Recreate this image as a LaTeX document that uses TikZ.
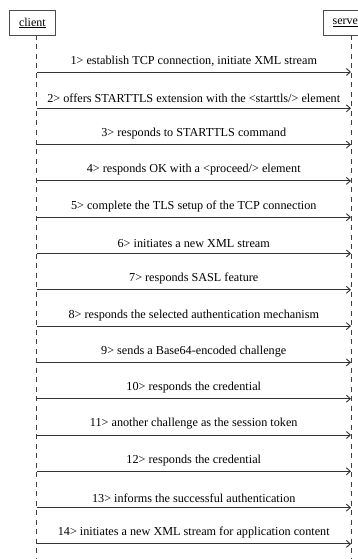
\documentclass[tikz,border=0pt]{standalone}
\usepackage{fontspec}
\setmainfont{Liberation Serif}
\usetikzlibrary{arrows.meta}
\begin{document}
\begin{tikzpicture}[x=1pt,y=-1pt,
  actor/.style={draw=black!70, line width=0.8pt, minimum width=46pt, minimum height=25pt, inner sep=0pt, font=\fontsize{12}{14}\selectfont, anchor=north west},
  lifeline/.style={draw=black!75, line width=0.8pt, dash pattern=on 5pt off 4.5pt},
  msg/.style={draw=black!80, line width=0.9pt, -{Straight Barb[length=4pt,width=7pt]}},
  lbl/.style={above=4pt, font=\fontsize{12.2}{14}\selectfont, inner sep=1pt}]
\useasboundingbox (0,0) rectangle (357,559);
\node[actor] (client) at (9,10) {\underline{client}};
\node[actor, minimum width=48pt] (server) at (323,10) {\underline{server}};
\coordinate (ctop) at (36.5,35);
\coordinate (cbot) at (36.5,559);
\coordinate (stop) at (351,35);
\coordinate (sbot) at (351,559);
\draw[lifeline] (ctop) -- (cbot);
\draw[lifeline] (stop) -- (sbot);
\foreach \i/\t in {
 1/{1> establish TCP connection, initiate XML stream},
 2/{2> offers STARTTLS extension with the <starttls/> element},
 3/{3> responds to STARTTLS command},
 4/{4> responds OK with a <proceed/> element},
 5/{5> complete the TLS setup of the TCP connection},
 6/{6> initiates a new XML stream},
 7/{7> responds SASL feature},
 8/{8> responds the selected authentication mechanism},
 9/{9> sends a Base64-encoded challenge},
 10/{10> responds the credential},
 11/{11> another challenge as the session token},
 12/{12> responds the credential},
 13/{13> informs the successful authentication},
 14/{14> initiates a new XML stream for application content}}{
  \coordinate (c\i) at (36.5,{72+36.3*(\i-1)});
  \coordinate (s\i) at (351,{72+36.3*(\i-1)});
  \draw[msg] (c\i) -- node[lbl] {\t} (s\i);
}
\end{tikzpicture}
\end{document}
